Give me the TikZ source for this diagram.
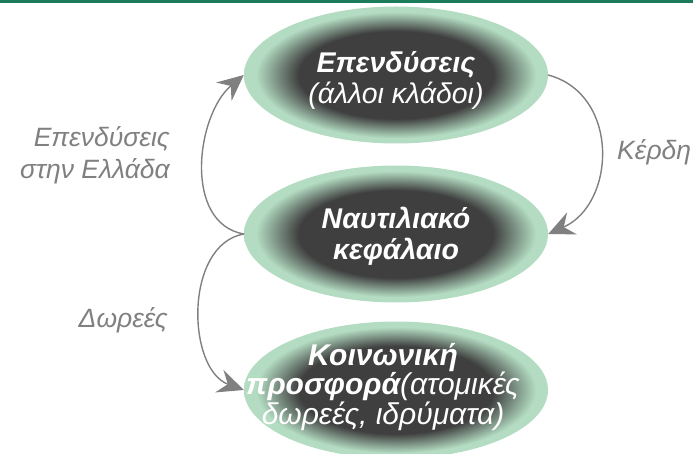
\documentclass[tikz,border=0pt]{standalone}
\usepackage{fontspec}
\setmainfont{Liberation Sans}
\usetikzlibrary{shapes.geometric,arrows.meta}
\definecolor{blobdark}{HTML}{3F3F3F}
\definecolor{blobgreen}{HTML}{B3DCC2}
\definecolor{topbar}{HTML}{1B7B5B}
\definecolor{flowgray}{HTML}{808080}
\pgfdeclareradialshading{blobshade}{\pgfpoint{0bp}{0bp}}{color(0bp)=(blobdark); color(16bp)=(blobdark); color(23bp)=(blobgreen); color(50bp)=(blobgreen)}
\begin{document}
\begin{tikzpicture}[x=1pt,y=1pt,line join=round,line cap=round,>={Stealth[length=26pt,width=24pt,inset=9pt]},
	blob/.style={ellipse,shading=blobshade,minimum width=304pt,minimum height=137pt,inner sep=0pt},
	blobtext/.style={text=white,align=center,inner sep=0pt,font=\fontsize{28.5}{31}\selectfont\itshape},
	flow/.style={->,draw=flowgray,line width=1.4pt},
	flowlabel/.style={text=flowgray,inner sep=0pt,font=\fontsize{26.5}{32}\selectfont\itshape}]
	\useasboundingbox (0,0) rectangle (693,453);
	\fill[topbar] (0,449.5) rectangle (693,453);
	% the three ellipses
	\node[blob] (invest) at (396,378) {};
	\node[blob] (capital) at (396,219) {};
	\node[blob] (social) at (396,63) {};
	\node[blobtext] (invest-t) at ([yshift=-5]invest) {\textbf{Επενδύσεις}\\(άλλοι κλάδοι)};
	\node[blobtext] (capital-t) at ([yshift=-2]capital) {\textbf{Ναυτιλιακό}\\\textbf{κεφάλαιο}};
	\node[blobtext,font=\fontsize{30}{28}\selectfont\itshape] (social-t) at ([xshift=-13,yshift=3]social) {\textbf{Κοινωνική}\\\textbf{προσφορά}(ατομικές\\δωρεές, ιδρύματα)};
	% flows between them
	\draw[flow] (capital.west) to[out=170,in=220] (invest.west);
	\draw[flow] (invest.east) to[out=-15,in=24,looseness=1.2] (capital.east);
	\draw[flow] (capital.west) to[out=190,in=160] (social.west);
	\node[flowlabel,anchor=east,align=right] (greece) at (170,298) {Επενδύσεις\\στην Ελλάδα};
	\node[flowlabel,anchor=base east] (gifts) at (168,126) {Δωρεές};
	\node[flowlabel,anchor=base west] (profit) at (617,293) {Κέρδη};
\end{tikzpicture}
\end{document}
